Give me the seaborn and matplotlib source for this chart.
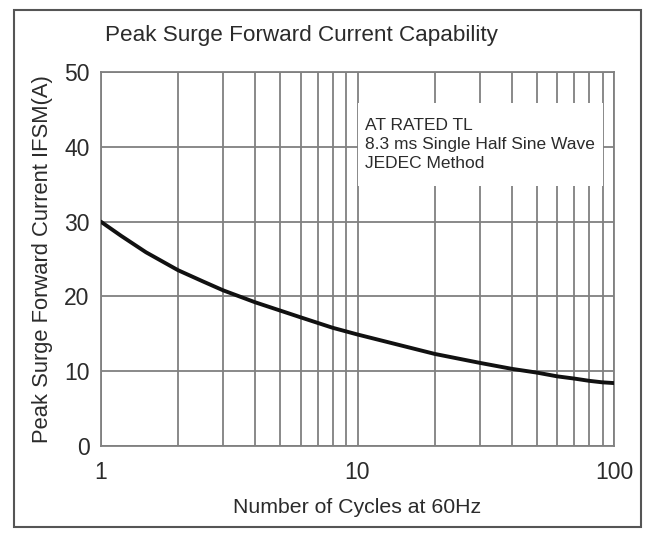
import numpy as np
import pandas as pd
import matplotlib
matplotlib.use("Agg")
import matplotlib.pyplot as plt
from matplotlib.patches import Rectangle
from matplotlib.ticker import LogLocator, NullFormatter, FixedLocator, FixedFormatter
import seaborn as sns

# Data
cycles = [1, 1.2, 1.5, 2, 2.5, 3, 4, 5, 6, 8, 10, 20, 30, 40, 50, 60, 70, 80, 90, 100]
ifsm = [30.0, 28.1, 25.9, 23.5, 22.0, 20.8, 19.2, 18.1, 17.2, 15.8, 14.9, 12.3,
        11.1, 10.3, 9.8, 9.3, 9.0, 8.7, 8.5, 8.4]
x_ticks = [1, 10, 100]
x_tick_labels = ["1", "10", "100"]
y_ticks = [0, 10, 20, 30, 40, 50]

title = "Peak Surge Forward Current Capability"
x_label = "Number of Cycles at 60Hz"
y_label = "Peak Surge Forward Current IFSM(A)"
note = "AT RATED TL\n8.3 ms Single Half Sine Wave\nJEDEC Method"

sns.set_style("white")
plt.rcParams['font.family'] = ['Liberation Sans', 'DejaVu Sans']

GRID = '#808080'
TXT = '#2b2b2b'

df = pd.DataFrame({'cycles': cycles, 'ifsm': ifsm})

fig = plt.figure(figsize=(6.5, 5.34), dpi=100)
ax = fig.add_axes([0.155, 0.165, 0.79, 0.70])

sns.lineplot(data=df, x='cycles', y='ifsm', ax=ax, color='#111111',
             linewidth=2.8, zorder=3)

ax.set_xscale('log')
ax.set_xlim(1, 100)
ax.set_ylim(0, 50)
ax.xaxis.set_major_locator(FixedLocator(x_ticks))
ax.xaxis.set_major_formatter(FixedFormatter(x_tick_labels))
ax.xaxis.set_minor_locator(LogLocator(base=10, subs=np.arange(2, 10)))
ax.xaxis.set_minor_formatter(NullFormatter())
ax.set_yticks(y_ticks)

ax.set_axisbelow(True)
ax.grid(True, which='both', axis='x', color=GRID, linewidth=1.3)
ax.grid(True, which='major', axis='y', color=GRID, linewidth=1.3)
for s in ax.spines.values():
    s.set_color(GRID)
    s.set_linewidth(1.3)

ax.tick_params(axis='both', which='both', length=0, labelsize=16.5, colors=TXT)
ax.tick_params(axis='x', pad=11)
ax.tick_params(axis='y', pad=8)

ax.set_xlabel(x_label, fontsize=15.3, color=TXT, labelpad=10)
ax.set_ylabel(y_label, fontsize=15.8, color=TXT, labelpad=8)

# white note box covering the grid
ax.add_patch(Rectangle((0.501, 0.695), 0.478, 0.222, transform=ax.transAxes,
                       facecolor='white', edgecolor='none', zorder=2))
ax.text(0.515, 0.877, note, transform=ax.transAxes, ha='left', va='top',
        fontsize=12.5, color=TXT, linespacing=1.35, zorder=4)

fig.text(0.162, 0.934, title, ha='left', va='center', fontsize=16.2, color=TXT)

# outer frame
fig.patches.append(Rectangle((0.0215, 0.013), 0.9645, 0.968, transform=fig.transFigure,
                             fill=False, edgecolor='#555555', linewidth=1.5))

fig.savefig('out.png', dpi=100)
